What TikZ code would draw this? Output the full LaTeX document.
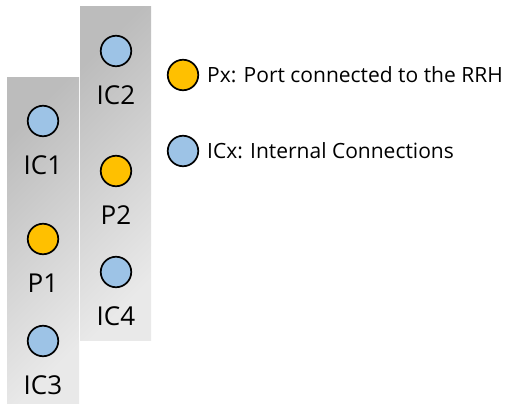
\documentclass[tikz,border=0pt]{standalone}
\usepackage{fontspec}
\setmainfont{Open Sans}
\definecolor{portorange}{HTML}{FFC000}
\definecolor{icblue}{HTML}{9DC3E6}
\definecolor{cardtop}{HTML}{BCBCBC}
\definecolor{cardbottom}{HTML}{E9E9E9}
\tikzset{
  card/.style={top color=cardtop, bottom color=cardbottom, shading angle=45},
  port/.style={circle, draw=black, line width=1.7pt, fill=portorange,
    minimum size=30.5pt, inner sep=0pt},
  intcon/.style={port, fill=icblue},
  lbl/.style={font=\fontsize{26}{26}\selectfont, inner sep=0pt},
  legtext/.style={font=\fontsize{21}{21}\selectfont, anchor=west, inner sep=0pt}
}
\begin{document}
\begin{tikzpicture}[x=1pt,y=-1pt]
\useasboundingbox (0,0) rectangle (509,404);
\shade[card] (7,78) rectangle (79,404);
\shade[card] (80,7) rectangle (151,340);
\foreach \n/\s/\t/\x/\y in {ic1/intcon/IC1/43/121, p1/port/P1/43/239,
    ic3/intcon/IC3/43/341, ic2/intcon/IC2/116/51, p2/port/P2/116/171,
    ic4/intcon/IC4/116/272}
{
  \node[\s] (\n) at (\x,\y) {};
  \node[lbl] (\n-txt) at (\x,\y+44) {\t};
}
\node[port] (legp) at (183,75) {};
\node[legtext] (legp-txt) at (207,75) {Px: Port connected to the RRH};
\node[intcon] (legic) at (183,151) {};
\node[legtext] (legic-txt) at (207,151) {ICx: Internal Connections};
\end{tikzpicture}
\end{document}
